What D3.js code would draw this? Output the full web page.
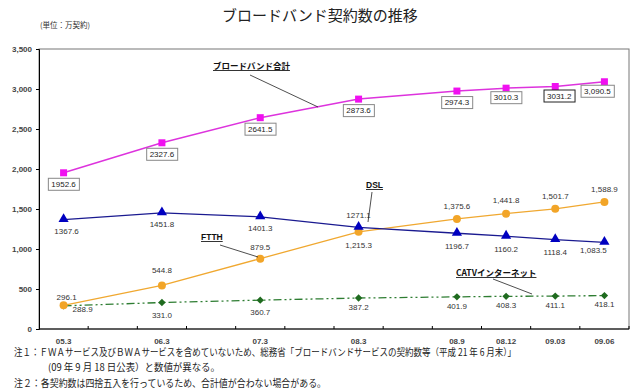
<!DOCTYPE html>
<html><head><meta charset="utf-8">
<script src="https://cdn.jsdelivr.net/npm/d3@7"></script>
<style>
body{margin:0;background:#fff;}
svg{display:block;}
</style></head>
<body>
<svg id="c" width="640" height="392"></svg>
<script>
// 12 category slots of the original axis; blank slots carry no data
const slots = ["05.3","","06.3","","07.3","","08.3","","08.9","08.12","09.03","09.06"];
const totalValues = [1952.6,null,2327.6,null,2641.5,null,2873.6,null,2974.3,3010.3,3031.2,3090.5];
const dslValues   = [1367.6,null,1451.8,null,1401.3,null,1271.1,null,1196.7,1160.2,1118.4,1083.5];
const ftthValues  = [296.1,null,544.8,null,879.5,null,1215.3,null,1375.6,1441.8,1501.7,1588.9];
const catvValues  = [288.9,null,331.0,null,360.7,null,387.2,null,401.9,408.3,411.1,418.1];
const totalLabels = ["1952.6",null,"2327.6",null,"2641.5",null,"2873.6",null,"2974.3","3010.3","3031.2","3,090.5"];
const dslLabels   = ["1367.6",null,"1451.8",null,"1401.3",null,"1271.1",null,"1196.7","1160.2","1118.4","1,083.5"];
const ftthLabels  = ["296.1",null,"544.8",null,"879.5",null,"1,215.3",null,"1,375.6","1,441.8","1,501.7","1,588.9"];
const catvLabels  = ["288.9",null,"331.0",null,"360.7",null,"387.2",null,"401.9","408.3","411.1","418.1"];
const yTicks = [0,500,1000,1500,2000,2500,3000,3500];
const seriesNames = ["ブロードバンド合計","DSL","FTTH","CATVインターネット"];
const title = "ブロードバンド契約数の推移";
const unitText = "(単位：万契約)";
const notes = ["注１：ＦＷＡサービス及びＢＷＡサービスを含めていないため、総務省「ブロードバンドサービスの契約数等（平成 21 年 6 月末）」",
               "(09 年 9 月 18 日公表）と数値が異なる。",
               "注２：各契約数は四捨五入を行っているため、合計値が合わない場合がある。"];

const svg = d3.select("#c");
const L = 39, R = 629, T = 49, B = 329;
const x = d3.scaleBand().domain(d3.range(slots.length)).range([L, R]);
const cx = i => x(i) + x.bandwidth()/2;
const y = d3.scaleLinear().domain([0,3500]).range([B, T]);
const latin = "'Liberation Sans', Arial, sans-serif";
const jp = "'Noto Sans CJK JP', sans-serif";

// Title & unit
svg.append("text").attr("x",320).attr("y",21).attr("text-anchor","middle")
  .attr("font-family",jp).attr("font-size",15).attr("fill","#222").text(title);
svg.append("text").attr("x",40).attr("y",28).attr("font-family",jp).attr("font-size",7.5)
  .attr("fill","#333").text(unitText);

// plot frame
svg.append("rect").attr("x",L).attr("y",T).attr("width",R-L).attr("height",B-T)
  .attr("fill","none").attr("stroke","#777").attr("stroke-width",1);

// Y axis
const yAxis = svg.append("g").attr("transform",`translate(${L},0)`)
  .call(d3.axisLeft(y).tickValues(yTicks).tickSize(3).tickPadding(4).tickFormat(d3.format(",")));
yAxis.select(".domain").attr("stroke","#000");
yAxis.selectAll("text").attr("font-family",latin).attr("font-size",8).attr("font-weight","bold").attr("fill","#444");

// X axis (ticks at slot boundaries, inward)
const xAxisG = svg.append("g").attr("transform",`translate(0,${B})`);
xAxisG.append("line").attr("x1",L).attr("x2",R).attr("stroke","#000");
xAxisG.selectAll("line.t").data(d3.range(1, slots.length+1)).join("line").attr("class","t")
  .attr("x1",i=>x.step()*i + L).attr("x2",i=>x.step()*i + L).attr("y1",0).attr("y2",-3).attr("stroke","#000");
xAxisG.selectAll("text").data(slots).join("text")
  .attr("x",(d,i)=>cx(i)).attr("y",15).attr("text-anchor","middle")
  .attr("font-family",latin).attr("font-size",8).attr("font-weight","bold").attr("fill","#444").text(d=>d);

function pts(vals){ return vals.map((v,i)=>({i,v})).filter(d=>d.v!==null); }
const line = d3.line().x(d=>cx(d.i)).y(d=>y(d.v));

// CATV
svg.append("path").datum(pts(catvValues)).attr("d",line).attr("fill","none")
  .attr("stroke","#2e7d32").attr("stroke-width",1.3).attr("stroke-dasharray","8,3,2,3,2,3");
// FTTH
svg.append("path").datum(pts(ftthValues)).attr("d",line).attr("fill","none")
  .attr("stroke","#f0a830").attr("stroke-width",1.3);
// DSL
svg.append("path").datum(pts(dslValues)).attr("d",line).attr("fill","none")
  .attr("stroke","#1a1a90").attr("stroke-width",1.3);
// Total
svg.append("path").datum(pts(totalValues)).attr("d",line).attr("fill","none")
  .attr("stroke","#dd33dd").attr("stroke-width",1.5);

// markers
svg.selectAll("rect.catv").data(pts(catvValues)).join("rect").attr("class","catv")
  .attr("x",-2.6).attr("y",-2.6).attr("width",5.2).attr("height",5.2)
  .attr("transform",d=>`translate(${cx(d.i)},${y(d.v)}) rotate(45)`).attr("fill","#1f6b1f");
svg.selectAll("circle.ftth").data(pts(ftthValues)).join("circle").attr("class","ftth")
  .attr("cx",d=>cx(d.i)).attr("cy",d=>y(d.v)).attr("r",4).attr("fill","#f2a528");
svg.selectAll("path.dsl").data(pts(dslValues)).join("path").attr("class","dsl")
  .attr("d",d3.symbol(d3.symbolTriangle,45)).attr("transform",d=>`translate(${cx(d.i)},${y(d.v)-0.5})`).attr("fill","#0000c0");
svg.selectAll("rect.tot").data(pts(totalValues)).join("rect").attr("class","tot")
  .attr("x",d=>cx(d.i)-3.5).attr("y",d=>y(d.v)-3.5).attr("width",7).attr("height",7).attr("fill","#f010f0");

// data labels
function labels(vals, labs, dyFn, dxFn){
  const g = svg.append("g");
  vals.forEach((v,i)=>{
    if(v===null) return;
    g.append("text").attr("x",cx(i)+(dxFn?dxFn(i):0)).attr("y",y(v)+dyFn(i)).attr("dy","0.35em")
      .attr("text-anchor","middle").attr("font-family",latin).attr("font-size",8)
      .attr("fill","#333").text(labs[i]);
  });
}
// total labels in boxes
totalValues.forEach((v,i)=>{
  if(v===null) return;
  const dx = i===10?4:(i===11?-7:0);
  const dy = i>=9?9.5:11.5;
  const g = svg.append("g");
  const t = g.append("text").attr("x",cx(i)+dx).attr("y",y(v)+dy).attr("dy","0.35em")
    .attr("text-anchor","middle").attr("font-family",latin).attr("font-size",8).attr("fill","#222").text(totalLabels[i]);
  const bb = t.node().getBBox();
  g.insert("rect","text").attr("x",bb.x-3).attr("y",y(v)+dy-6).attr("width",bb.width+6).attr("height",12)
    .attr("fill","#fff").attr("stroke",i===10?"#222":"#888").attr("stroke-width",1);
});
labels(dslValues, dslLabels, i=> i===6?-12:(i===11?8:(i>=8?13:11.5)), i=> i===11?-11:(i===0?3:0));
labels(ftthValues, ftthLabels, i=> i===6?13:(i===0?-8:(i===2?-15:(i===4?-11:-13))), i=> i===0?3:0);
labels(catvValues, catvLabels, i=> i===0?3:(i<=4?12.5:9), i=> i===0?19:0);

// series name callouts
function callout(name, tx, ty, x1,y1,x2,y2, font){
  svg.append("text").attr("x",tx).attr("y",ty).attr("font-family",font).attr("font-size",8.5)
    .attr("font-weight","bold").attr("fill","#111").attr("text-decoration","underline").text(name);
  svg.append("line").attr("x1",x1).attr("y1",y1).attr("x2",x2).attr("y2",y2).attr("stroke","#222").attr("stroke-width",0.8);
}
callout(seriesNames[0], 213, 69, 250, 75, 318, 107, jp);
callout(seriesNames[1], 366, 188, 372, 192, 368, 222, latin);
callout(seriesNames[2], 201, 240, 220, 245, 258, 257, latin);
callout(seriesNames[3], 456, 276, 493, 279, 532, 294, jp);

// notes
const nf = jp;
svg.append("text").attr("x",14).attr("y",356).attr("font-family",nf).attr("font-size",9.8).attr("fill","#222")
  .attr("textLength",502).attr("lengthAdjust","spacingAndGlyphs").text(notes[0]);
svg.append("text").attr("x",48).attr("y",371).attr("font-family",nf).attr("font-size",9.8).attr("fill","#222")
  .attr("textLength",172).attr("lengthAdjust","spacingAndGlyphs").text(notes[1]);
svg.append("text").attr("x",14).attr("y",387).attr("font-family",nf).attr("font-size",9.8).attr("fill","#222")
  .attr("textLength",312).attr("lengthAdjust","spacingAndGlyphs").text(notes[2]);
</script>
</body></html>
